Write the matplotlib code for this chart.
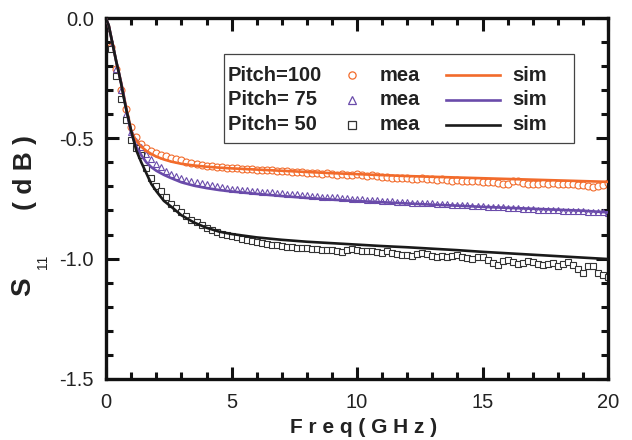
import matplotlib
matplotlib.use("Agg")
import matplotlib.pyplot as plt
from matplotlib.patches import Rectangle
from matplotlib.ticker import MultipleLocator

plt.rcParams['font.family'] = ['Liberation Sans', 'DejaVu Sans']

# -------- data --------
mea_f = [round(0.2 * i, 1) for i in range(101)]

mea_100 = [-0.040, -0.120, -0.210, -0.300, -0.380, -0.455, -0.495, -0.522, -0.540, -0.552,
           -0.561, -0.568, -0.575, -0.582, -0.587, -0.592, -0.598, -0.603, -0.607, -0.611,
           -0.615, -0.617, -0.619, -0.621, -0.622, -0.624, -0.625, -0.626, -0.628, -0.627,
           -0.630, -0.631, -0.633, -0.632, -0.636, -0.637, -0.635, -0.639, -0.641, -0.640,
           -0.643, -0.646, -0.644, -0.647, -0.645, -0.650, -0.652, -0.649, -0.651, -0.653,
           -0.650, -0.652, -0.655, -0.653, -0.657, -0.661, -0.660, -0.664, -0.667, -0.663,
           -0.665, -0.668, -0.670, -0.666, -0.668, -0.671, -0.673, -0.670, -0.674, -0.676,
           -0.674, -0.677, -0.679, -0.676, -0.679, -0.681, -0.683, -0.680, -0.686, -0.690,
           -0.688, -0.679, -0.677, -0.684, -0.690, -0.692, -0.688, -0.686, -0.689, -0.687,
           -0.690, -0.688, -0.692, -0.690, -0.694, -0.696, -0.698, -0.701, -0.700, -0.693,
           -0.686]

mea_75 = [-0.040, -0.120, -0.210, -0.300, -0.400, -0.475, -0.510, -0.535, -0.565, -0.585,
          -0.605, -0.620, -0.635, -0.648, -0.657, -0.665, -0.672, -0.677, -0.683, -0.687,
          -0.692, -0.696, -0.700, -0.703, -0.706, -0.710, -0.712, -0.714, -0.716, -0.718,
          -0.720, -0.722, -0.724, -0.725, -0.727, -0.728, -0.730, -0.731, -0.733, -0.735,
          -0.737, -0.739, -0.740, -0.742, -0.743, -0.744, -0.746, -0.748, -0.749, -0.751,
          -0.752, -0.753, -0.755, -0.755, -0.757, -0.759, -0.760, -0.761, -0.763, -0.764,
          -0.765, -0.767, -0.768, -0.768, -0.770, -0.771, -0.772, -0.774, -0.775, -0.776,
          -0.777, -0.779, -0.779, -0.781, -0.782, -0.783, -0.784, -0.786, -0.787, -0.787,
          -0.789, -0.790, -0.791, -0.793, -0.794, -0.795, -0.796, -0.797, -0.798, -0.799,
          -0.800, -0.801, -0.801, -0.802, -0.803, -0.804, -0.805, -0.806, -0.807, -0.808,
          -0.810]

mea_50 = [-0.040, -0.130, -0.240, -0.335, -0.425, -0.505, -0.540, -0.570, -0.625, -0.665,
          -0.700, -0.720, -0.745, -0.775, -0.790, -0.805, -0.825, -0.838, -0.850, -0.862,
          -0.872, -0.880, -0.890, -0.896, -0.902, -0.907, -0.912, -0.917, -0.921, -0.926,
          -0.930, -0.935, -0.939, -0.942, -0.945, -0.948, -0.950, -0.952, -0.955, -0.957,
          -0.958, -0.960, -0.962, -0.963, -0.965, -0.966, -0.970, -0.972, -0.965, -0.960,
          -0.963, -0.968, -0.970, -0.970, -0.973, -0.976, -0.970, -0.977, -0.982, -0.985,
          -0.984, -0.988, -0.982, -0.978, -0.983, -0.990, -0.992, -0.988, -0.993, -0.990,
          -0.985, -0.992, -0.998, -1.002, -0.995, -0.993, -1.005, -1.018, -1.025, -1.010,
          -1.008, -1.015, -1.022, -1.018, -1.010, -1.015, -1.024, -1.028, -1.022, -1.020,
          -1.032, -1.022, -1.016, -1.026, -1.045, -1.058, -1.030, -1.030, -1.060, -1.070,
          -1.075]

sim_f = [0, 0.1, 0.2, 0.3, 0.4, 0.5, 0.6, 0.7, 0.8, 0.9, 1.0, 1.2, 1.4, 1.6, 1.8, 2.0,
         2.3, 2.6, 3.0, 3.5, 4, 4.5, 5, 6, 7, 8, 9, 10, 11, 12, 13, 14, 15, 16, 17, 18, 19, 20]

sim_100 = [-0.005, -0.030, -0.080, -0.130, -0.180, -0.225, -0.270, -0.320, -0.375, -0.420,
           -0.472, -0.510, -0.535, -0.552, -0.565, -0.576, -0.588, -0.597, -0.606, -0.613,
           -0.618, -0.622, -0.625, -0.630, -0.635, -0.640, -0.645, -0.649, -0.653, -0.657,
           -0.660, -0.663, -0.666, -0.669, -0.672, -0.675, -0.678, -0.681]

sim_75 = [-0.005, -0.030, -0.080, -0.130, -0.180, -0.225, -0.272, -0.325, -0.380, -0.430,
          -0.480, -0.535, -0.570, -0.600, -0.620, -0.635, -0.652, -0.666, -0.683, -0.697,
          -0.707, -0.715, -0.721, -0.731, -0.740, -0.748, -0.755, -0.761, -0.766, -0.771,
          -0.776, -0.780, -0.785, -0.789, -0.793, -0.797, -0.801, -0.808]

sim_50 = [-0.005, -0.030, -0.080, -0.130, -0.180, -0.225, -0.275, -0.330, -0.380, -0.425,
          -0.470, -0.550, -0.600, -0.645, -0.690, -0.720, -0.760, -0.785, -0.820, -0.850,
          -0.872, -0.888, -0.898, -0.912, -0.922, -0.930, -0.936, -0.942, -0.948, -0.953,
          -0.959, -0.965, -0.972, -0.978, -0.984, -0.990, -0.996, -1.002]

pitch_labels = ["Pitch=100", "Pitch= 75", "Pitch= 50"]
colors = ["#F26B2B", "#6A4BAA", "#1A1A1A"]
markers = ["o", "^", "s"]

mea_series = [mea_100, mea_75, mea_50]
sim_series = [sim_100, sim_75, sim_50]

# -------- plot --------
fig = plt.figure(figsize=(6.32, 4.40), dpi=100)
ax = fig.add_axes([0.168, 0.139, 0.794, 0.820])

for mea, sim, c, m in zip(mea_series, sim_series, colors, markers):
    ec = "#333333" if m == "s" else c
    ax.plot(mea_f, mea, linestyle="none", marker=m, markersize=5,
            markerfacecolor="white", markeredgecolor=ec, markeredgewidth=0.8, zorder=2)
    ax.plot(sim_f, sim, color=c, linewidth=1.9, zorder=3)

ax.set_xlim(0, 20)
ax.set_ylim(-1.5, 0.0)
ax.xaxis.set_major_locator(MultipleLocator(5))
ax.xaxis.set_minor_locator(MultipleLocator(1))
ax.yaxis.set_major_locator(MultipleLocator(0.5))
ax.yaxis.set_minor_locator(MultipleLocator(0.1))
ax.yaxis.set_major_formatter(plt.FuncFormatter(lambda v, p: f"{v:.1f}"))

for s in ax.spines.values():
    s.set_linewidth(2.4)
    s.set_color("#111111")
ax.tick_params(which="both", direction="in", top=True, right=True,
               width=2.2, color="#111111", labelsize=14.5, labelcolor="#222222")
ax.tick_params(which="major", length=9, pad=9)
ax.tick_params(which="minor", length=5)
ax.tick_params(axis="x", which="major", pad=10)

# axis labels
fig.text(0.576, 0.028, "F r e q ( G H z )", ha="center", va="center",
         fontsize=15, fontweight="bold", color="#222222")
fig.text(0.036, 0.348, "S", ha="center", va="center", rotation=90,
         fontsize=20, fontweight="bold", color="#222222")
fig.text(0.068, 0.405, "11", ha="center", va="center", rotation=90,
         fontsize=10, color="#222222")
fig.text(0.040, 0.607, "( d B )", ha="center", va="center", rotation=90,
         fontsize=19, fontweight="bold", color="#222222")

# legend drawn by hand
ax.add_patch(Rectangle((0.235, 0.654), 0.697, 0.246, transform=ax.transAxes,
                       facecolor="white", edgecolor="#444444", linewidth=0.9, zorder=4))
row_y = [0.842, 0.773, 0.704]
for lab, c, m, y in zip(pitch_labels, colors, markers, row_y):
    ec = "#333333" if m == "s" else c
    ax.text(0.243, y, lab, transform=ax.transAxes, ha="left", va="center",
            fontsize=14.5, fontweight="bold", color="#222222", zorder=5)
    ax.plot([0.49], [y], transform=ax.transAxes, marker=m, markersize=5.2,
            markerfacecolor="white", markeredgecolor=ec, markeredgewidth=0.9,
            linestyle="none", zorder=5, clip_on=False)
    ax.text(0.544, y, "mea", transform=ax.transAxes, ha="left", va="center",
            fontsize=14.5, fontweight="bold", color="#222222", zorder=5)
    ax.plot([0.677, 0.785], [y, y], transform=ax.transAxes, color=c,
            linewidth=1.9, zorder=5, clip_on=False)
    ax.text(0.809, y, "sim", transform=ax.transAxes, ha="left", va="center",
            fontsize=14.5, fontweight="bold", color="#222222", zorder=5)

fig.savefig("out.png", dpi=100)
